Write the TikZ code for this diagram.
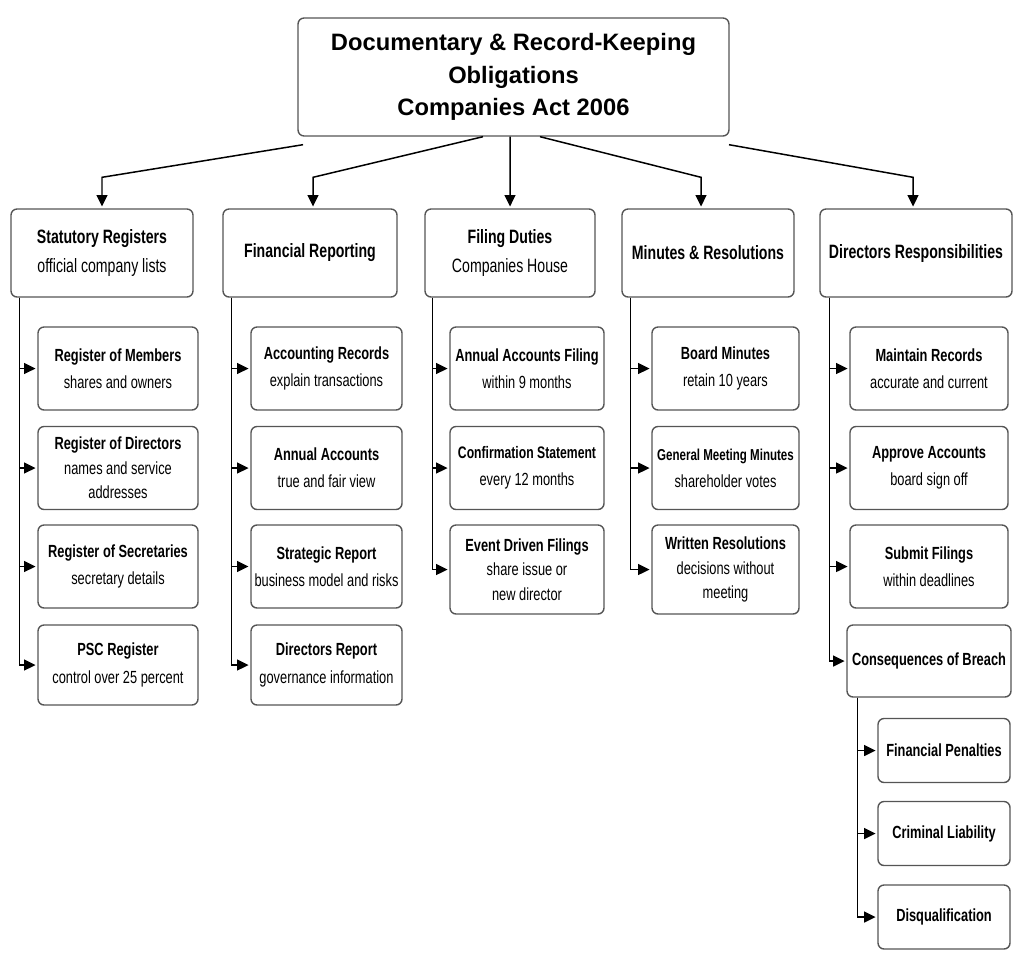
\documentclass[tikz,border=0pt]{standalone}
\usepackage{fontspec}
\usepackage{tikz}
\usetikzlibrary{arrows.meta}
\newfontfamily\condfont[FakeStretch=0.73]{Liberation Sans}
\newfontfamily\titlefont{Liberation Sans}
\definecolor{boxline}{HTML}{555555}

\tikzset{
  box/.style={draw=boxline, line width=0.8pt, rounded corners=0.12cm, fill=white,
    align=center, inner sep=2pt, font=\condfont\fontsize{10}{14}\selectfont},
  topbox/.style={box, minimum width=8.62cm, minimum height=2.36cm,
    font=\titlefont\bfseries\fontsize{13.5}{18.6}\selectfont},
  headbox/.style={box, minimum height=1.76cm, font=\condfont\fontsize{11}{16.4}\selectfont},
  itembox/.style={box, minimum height=1.66cm},
  subbox/.style={box, minimum width=2.64cm, minimum height=1.28cm},
  link/.style={line width=0.85pt, -{Triangle[length=2.3mm,width=2.2mm]}, shorten >=1pt},
}

\begin{document}
\begin{tikzpicture}[x=0.02cm, y=-0.02cm]
\useasboundingbox (0,0) rectangle (1024,967);

% title
\node[topbox] (top) at (513.5,77) {Documentary \& Record-Keeping\\Obligations\\Companies Act 2006};

% headings
\node[headbox, minimum width=3.64cm] (sr) at (102,253) {\textbf{Statutory Registers}\\official company lists};
\node[headbox, minimum width=3.48cm] (fr) at (310,253) {\textbf{Financial Reporting}};
\node[headbox, minimum width=3.40cm] (fd) at (510,253) {\textbf{Filing Duties}\\Companies House};
\node[headbox, minimum width=3.44cm] (mr) at (708,253) {\textbf{Minutes \& Resolutions}};
\node[headbox, minimum width=3.84cm] (dr) at (916,253) {\textbf{Directors Responsibilities}};

% statutory registers
\node[itembox, minimum width=3.2cm] (sr1) at (118,368.5) {\textbf{Register of Members}\\[1.5pt]shares and owners};
\node[itembox, minimum width=3.2cm] (sr2) at (118,468) {\textbf{Register of Directors}\\names and service\\addresses};
\node[itembox, minimum width=3.2cm] (sr3) at (118,566.5) {\textbf{Register of Secretaries}\\[1.5pt]secretary details};
\node[itembox, minimum width=3.2cm, minimum height=1.6cm] (sr4) at (118,665) {\textbf{PSC Register}\\[1.5pt]control over 25 percent};

% financial reporting
\node[itembox, minimum width=3.02cm] (fr1) at (326.5,368.5) {\textbf{Accounting Records}\\[1.5pt]explain transactions};
\node[itembox, minimum width=3.02cm] (fr2) at (326.5,468) {\textbf{Annual Accounts}\\[1.5pt]true and fair view};
\node[itembox, minimum width=3.02cm] (fr3) at (326.5,566.5) {\textbf{Strategic Report}\\[1.5pt]business model and risks};
\node[itembox, minimum width=3.02cm, minimum height=1.6cm] (fr4) at (326.5,665) {\textbf{Directors Report}\\[1.5pt]governance information};

% filing duties
\node[itembox, minimum width=3.08cm] (fd1) at (527,368.5) {\textbf{Annual Accounts Filing}\\[1.5pt]within 9 months};
\node[itembox, minimum width=3.08cm] (fd2) at (527,468) {{\fontsize{9.5}{14}\selectfont\textbf{Confirmation Statement}}\\[1.5pt]every 12 months};
\node[itembox, minimum width=3.08cm, minimum height=1.78cm] (fd3) at (527,569.5) {\textbf{Event Driven Filings}\\share issue or\\new director};

% minutes and resolutions
\node[itembox, minimum width=2.94cm] (mr1) at (725.5,368.5) {\textbf{Board Minutes}\\[1.5pt]retain 10 years};
\node[itembox, minimum width=2.94cm] (mr2) at (725.5,468) {{\fontsize{9}{14}\selectfont\textbf{General Meeting Minutes}}\\[1.5pt]shareholder votes};
\node[itembox, minimum width=2.94cm, minimum height=1.78cm] (mr3) at (725.5,569.5) {\textbf{Written Resolutions}\\decisions without\\meeting};

% directors responsibilities
\node[itembox, minimum width=3.16cm] (dr1) at (929,368.5) {\textbf{Maintain Records}\\[1.5pt]accurate and current};
\node[itembox, minimum width=3.16cm] (dr2) at (929,468) {\textbf{Approve Accounts}\\[1.5pt]board sign off};
\node[itembox, minimum width=3.16cm] (dr3) at (929,566.5) {\textbf{Submit Filings}\\[1.5pt]within deadlines};
\node[itembox, minimum width=3.28cm, minimum height=1.44cm] (cb) at (929,661) {\textbf{Consequences of Breach}};

\node[subbox] (cb1) at (944,750.5) {\textbf{Financial Penalties}};
\node[subbox] (cb2) at (944,833.5) {\textbf{Criminal Liability}};
\node[subbox] (cb3) at (944,917) {\textbf{Disqualification}};

% lines from title
\draw[link] ([xshift=-4.21cm,yshift=-0.16cm]top.south) -- ([yshift=0.62cm]sr.north) -- (sr.north);
\draw[link] ([xshift=-0.61cm]top.south) -- ([xshift=0.06cm,yshift=0.62cm]fr.north) -- ([xshift=0.06cm]fr.north);
\draw[link] ([xshift=-0.07cm]top.south) -- (fd.north);
\draw[link] ([xshift=0.53cm]top.south) -- ([xshift=-0.14cm,yshift=0.62cm]mr.north) -- ([xshift=-0.14cm]mr.north);
\draw[link] ([xshift=4.31cm,yshift=-0.16cm]top.south) -- ([xshift=-0.06cm,yshift=0.62cm]dr.north) -- ([xshift=-0.06cm]dr.north);

% side lines
\draw[link] ([xshift=0.18cm]sr.south west) |- (sr1.west);
\draw[link] ([xshift=0.18cm]sr.south west) |- (sr2.west);
\draw[link] ([xshift=0.18cm]sr.south west) |- (sr3.west);
\draw[link] ([xshift=0.18cm]sr.south west) |- (sr4.west);

\draw[link] ([xshift=0.18cm]fr.south west) |- (fr1.west);
\draw[link] ([xshift=0.18cm]fr.south west) |- (fr2.west);
\draw[link] ([xshift=0.18cm]fr.south west) |- (fr3.west);
\draw[link] ([xshift=0.18cm]fr.south west) |- (fr4.west);

\draw[link] ([xshift=0.16cm]fd.south west) |- (fd1.west);
\draw[link] ([xshift=0.16cm]fd.south west) |- (fd2.west);
\draw[link] ([xshift=0.16cm]fd.south west) |- (fd3.west);

\draw[link] ([xshift=0.18cm]mr.south west) |- (mr1.west);
\draw[link] ([xshift=0.18cm]mr.south west) |- (mr2.west);
\draw[link] ([xshift=0.18cm]mr.south west) |- (mr3.west);

\draw[link] ([xshift=0.2cm]dr.south west) |- (dr1.west);
\draw[link] ([xshift=0.2cm]dr.south west) |- (dr2.west);
\draw[link] ([xshift=0.2cm]dr.south west) |- (dr3.west);
\draw[link] ([xshift=0.2cm]dr.south west) |- (cb.west);

\draw[link] ([xshift=0.22cm]cb.south west) |- (cb1.west);
\draw[link] ([xshift=0.22cm]cb.south west) |- (cb2.west);
\draw[link] ([xshift=0.22cm]cb.south west) |- (cb3.west);

\end{tikzpicture}
\end{document}
